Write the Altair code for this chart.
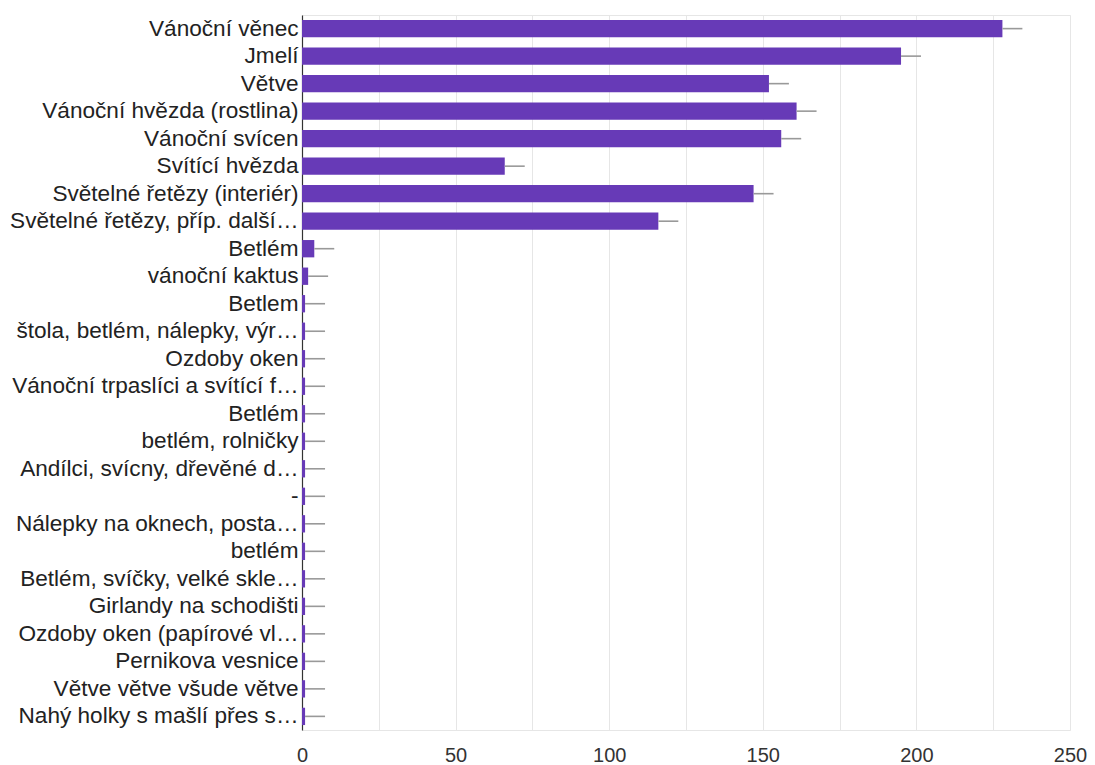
import altair as alt
import pandas as pd

labels = [
    "Vánoční věnec", "Jmelí", "Větve", "Vánoční hvězda (rostlina)", "Vánoční svícen",
    "Svítící hvězda", "Světelné řetězy (interiér)", "Světelné řetězy, příp. další…",
    "Betlém", "vánoční kaktus", "Betlem", "štola, betlém, nálepky, výr…", "Ozdoby oken",
    "Vánoční trpaslíci a svítící f…", "Betlém", "betlém, rolničky",
    "Andílci, svícny, dřevěné d…", "-", "Nálepky na oknech, posta…", "betlém",
    "Betlém, svíčky, velké skle…", "Girlandy na schodišti", "Ozdoby oken (papírové vl…",
    "Pernikova vesnice", "Větve větve všude větve", "Nahý holky s mašlí přes s…",
]
values = [228, 195, 152, 161, 156, 66, 147, 116, 4, 2,
          1, 1, 1, 1, 1, 1, 1, 1, 1, 1, 1, 1, 1, 1, 1, 1]
errors = [6.5] * 26
x_ticks = [0, 25, 50, 75, 100, 125, 150, 175, 200, 225, 250]

df = pd.DataFrame({
    "idx": list(range(len(labels))),
    "label": labels,
    "value": values,
})
df["err_end"] = [v + e for v, e in zip(values, errors)]

label_js = "[" + ",".join("'" + l.replace("'", "\\'") + "'" for l in labels) + "]"

y_enc = alt.Y(
    "idx:O",
    sort=None,
    scale=alt.Scale(paddingInner=0.37, paddingOuter=0.18),
    axis=alt.Axis(
        title=None,
        labelExpr=label_js + "[datum.value]",
        ticks=False,
        labelFontSize=22.6,
        labelColor="#222222",
        labelFont="Liberation Sans",
        labelPadding=4,
        domainColor="#333333",
        domainWidth=1.2,
        labelLimit=400,
    ),
)

x_scale = alt.Scale(domain=[0, 250], nice=False)

bars = alt.Chart(df).mark_bar(color="#673ab7").encode(
    x=alt.X(
        "value:Q",
        scale=x_scale,
        axis=alt.Axis(
            title=None,
            values=x_ticks,
            labelExpr="datum.value % 50 == 0 ? datum.label : ''",
            labelFlush=False,
            ticks=False,
            domain=False,
            grid=True,
            gridColor="#e6e6e6",
            gridWidth=1,
            labelFontSize=20,
            labelColor="#333333",
            labelFont="Liberation Sans",
            labelPadding=15,
        ),
    ),
    y=y_enc,
)

errs = alt.Chart(df).mark_rule(color="#999999", strokeWidth=1.6).encode(
    x=alt.X("value:Q", scale=x_scale),
    x2="err_end:Q",
    y=alt.Y("idx:O", sort=None),
)

chart = alt.layer(bars, errs).properties(
    width=768,
    height=715,
    autosize=alt.AutoSizeParams(type="none"),
    padding={"left": 294, "top": 7, "right": 17, "bottom": 35},
).configure_view(stroke="#e6e6e6")

chart.save("out.html", embed_options={"renderer": "svg", "actions": False})
